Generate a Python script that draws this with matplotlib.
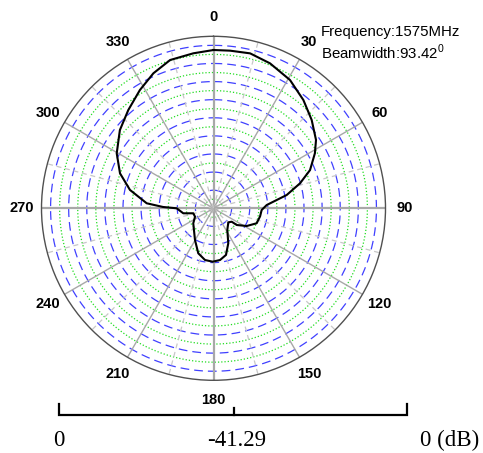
import numpy as np
import matplotlib
matplotlib.use("Agg")
import matplotlib.pyplot as plt

# measured radiation pattern (angle in degrees, clockwise from north; gain in dB)
angles_deg = [0, 6.0, 13.3, 21.3, 30.8, 39.7, 48.0, 56.3, 61.5, 68.4, 73.9, 79.7,
              83.7, 86.5, 92.0, 99.8, 109.1, 118.1, 125.7, 126.4, 133.4, 147.5,
              157.1, 165.0, 172.8, 180.9, 189.3, 198.7, 210.3, 233.4, 245.6,
              256.1, 260.6, 270.0, 271.5, 274.3, 282.4, 290.5, 299.6, 309.9,
              319.1, 328.1, 336.0, 343.7, 352.6, 360]
gain_db = [-3.29, -3.24, -3.07, -3.94, -5.43, -7.51, -9.58, -11.71, -13.59, -16.37,
           -19.68, -23.43, -26.84, -28.50, -29.72, -29.94, -30.32, -32.26, -34.42,
           -35.86, -36.39, -35.12, -32.17, -29.70, -28.78, -28.47, -28.71, -29.89,
           -32.48, -35.24, -36.42, -36.30, -33.94, -32.45, -29.17, -25.21, -20.76,
           -17.33, -14.57, -12.00, -10.06, -7.85, -5.81, -4.20, -3.77, -3.29]

r_min = -41.29
r_max = 0.0
n_rings = 19
angle_labels = [0, 30, 60, 90, 120, 150, 180, 210, 240, 270, 300, 330]
scale_labels = ["0", "-41.29", "0 (dB)"]
info_lines = ["Frequency:1575MHz", r"Beamwidth:93.42$^{\mathregular{0}}$"]

W, H = 483, 453
fig = plt.figure(figsize=(W / 100, H / 100), dpi=100)
fig.patch.set_facecolor("white")

cx, cy, R = 213.5, 208.3, 172.0
ax = fig.add_axes([(cx - R) / W, (H - cy - R) / H, 2 * R / W, 2 * R / H],
                  projection="polar")
ax.set_theta_zero_location("N")
ax.set_theta_direction(-1)
ax.set_ylim(r_min, r_max)
ax.grid(False)
ax.set_xticks([])
ax.set_yticks([])
ax.spines["polar"].set_color("#505050")
ax.spines["polar"].set_linewidth(1.0)

# concentric rings: alternating green dotted / blue dashed
full = np.linspace(0, 2 * np.pi, 721)
for k in range(1, n_rings):
    rr = r_min + k * (r_max - r_min) / n_rings
    if k % 2:
        ax.plot(full, np.full_like(full, rr), color="#22dd22", lw=0.9,
                linestyle=(0, (1, 1.6)))
    else:
        ax.plot(full, np.full_like(full, rr), color="#4040ff", lw=0.9,
                linestyle=(0, (7, 4)))

# spokes
for a in range(0, 360, 15):
    t = np.deg2rad(a)
    if a % 30 == 0:
        lw = 1.6 if a % 90 == 0 else 1.0
        ax.plot([t, t], [r_min, r_max], color="#a8a8a8", lw=lw)
    else:
        ax.plot([t, t], [r_min, r_max], color="#c8c8c8", lw=0.9,
                linestyle=(0, (4, 3)))

ax.plot(np.deg2rad(angles_deg), gain_db, color="black", lw=1.5)

label_r = r_max + (r_max - r_min) * (191.5 / R - 1)
for a in angle_labels:
    ax.text(np.deg2rad(a), label_r, str(a), ha="center", va="center",
            fontsize=10.5, fontweight="bold", family="Liberation Sans",
            clip_on=False)

fig.text(321 / W, 1 - 32.3 / H, info_lines[0], ha="left", va="center",
         fontsize=10.8, family="Liberation Sans")
fig.text(321 / W, 1 - 52.7 / H, info_lines[1], ha="left", va="center",
         fontsize=10.8, family="Liberation Sans")

# dB scale bar below the chart, drawn in pixel coordinates
ov = fig.add_axes([0, 0, 1, 1])
ov.set_xlim(0, W)
ov.set_ylim(H, 0)
ov.axis("off")
x0, x1, xm, yb = 58.7, 406.7, 234.0, 415.0
ov.plot([x0, x0, x1, x1], [404, yb, yb, 404], color="black", lw=1.6,
        solid_joinstyle="miter")
ov.plot([xm, xm], [yb, 407.5], color="black", lw=1.6)
for x, s in zip([59.3, 236.7, 449.5], scale_labels):
    ov.text(x, 440, s, ha="center", va="center", fontsize=16.5,
            family="Liberation Serif")

fig.savefig("out.png", dpi=100, facecolor="white")
